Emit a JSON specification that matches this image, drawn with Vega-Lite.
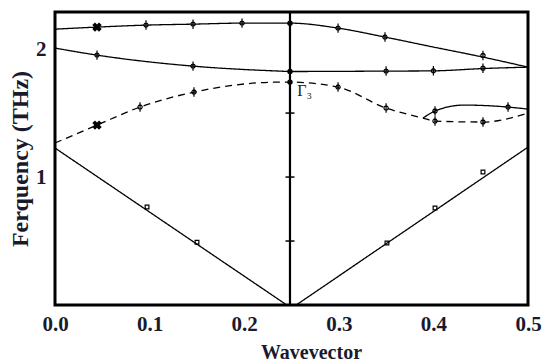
{
  "$schema": "https://vega.github.io/schema/vega-lite/v6.json",
  "width": 473,
  "height": 293,
  "autosize": {"type": "none"},
  "padding": {"left": 55, "top": 12, "right": 23, "bottom": 59},
  "background": "white",
  "config": {
    "view": {"stroke": "black", "strokeWidth": 3},
    "axis": {
      "labelFont": "Liberation Serif",
      "titleFont": "Liberation Serif",
      "labelFontWeight": "bold",
      "titleFontWeight": "bold",
      "labelColor": "#1a1a2e",
      "titleColor": "#1a1a2e",
      "labelFontSize": 21,
      "titleFontSize": 20,
      "grid": false,
      "domain": false,
      "ticks": false,
      "labelFlush": false
    }
  },
  "datasets": {
    "lines": [
      {"curve": "A", "style": "solid", "q": 0, "f": 2.156},
      {"curve": "A", "style": "solid", "q": 0.0444, "f": 2.172},
      {"curve": "A", "style": "solid", "q": 0.0962, "f": 2.1875},
      {"curve": "A", "style": "solid", "q": 0.1459, "f": 2.195},
      {"curve": "A", "style": "solid", "q": 0.1977, "f": 2.203},
      {"curve": "A", "style": "solid", "q": 0.2484, "f": 2.203},
      {"curve": "A", "style": "solid", "q": 0.2992, "f": 2.164},
      {"curve": "A", "style": "solid", "q": 0.3488, "f": 2.094},
      {"curve": "A", "style": "solid", "q": 0.40, "f": 2.016},
      {"curve": "A", "style": "solid", "q": 0.4524, "f": 1.9375},
      {"curve": "A", "style": "solid", "q": 0.5, "f": 1.859},
      {"curve": "B", "style": "solid", "q": 0, "f": 2.008},
      {"curve": "B", "style": "solid", "q": 0.0444, "f": 1.953},
      {"curve": "B", "style": "solid", "q": 0.1459, "f": 1.867},
      {"curve": "B", "style": "solid", "q": 0.2378, "f": 1.828},
      {"curve": "B", "style": "solid", "q": 0.2484, "f": 1.825},
      {"curve": "B", "style": "solid", "q": 0.35, "f": 1.828},
      {"curve": "B", "style": "solid", "q": 0.40, "f": 1.83},
      {"curve": "B", "style": "solid", "q": 0.4524, "f": 1.848},
      {"curve": "B", "style": "solid", "q": 0.5, "f": 1.859},
      {"curve": "C", "style": "dashed", "q": 0, "f": 1.266},
      {"curve": "C", "style": "dashed", "q": 0.0444, "f": 1.406},
      {"curve": "C", "style": "dashed", "q": 0.0899, "f": 1.547},
      {"curve": "C", "style": "dashed", "q": 0.1469, "f": 1.664},
      {"curve": "C", "style": "dashed", "q": 0.2378, "f": 1.742},
      {"curve": "C", "style": "dashed", "q": 0.2484, "f": 1.742},
      {"curve": "C", "style": "dashed", "q": 0.2992, "f": 1.703},
      {"curve": "C", "style": "dashed", "q": 0.35, "f": 1.539},
      {"curve": "C", "style": "dashed", "q": 0.389, "f": 1.461},
      {"curve": "C", "style": "dashed", "q": 0.4017, "f": 1.4375},
      {"curve": "C", "style": "dashed", "q": 0.4524, "f": 1.43},
      {"curve": "C", "style": "dashed", "q": 0.5, "f": 1.5},
      {"curve": "D", "style": "solid", "q": 0.389, "f": 1.461},
      {"curve": "D", "style": "solid", "q": 0.4017, "f": 1.516},
      {"curve": "D", "style": "solid", "q": 0.4323, "f": 1.5625},
      {"curve": "D", "style": "solid", "q": 0.4789, "f": 1.547},
      {"curve": "D", "style": "solid", "q": 0.5, "f": 1.531},
      {"curve": "E", "style": "solid", "q": 0, "f": 1.227},
      {"curve": "E", "style": "solid", "q": 0.245, "f": 0},
      {"curve": "F", "style": "solid", "q": 0.255, "f": 0},
      {"curve": "F", "style": "solid", "q": 0.5, "f": 1.234}
    ],
    "circles": [
      {"q": 0.0962, "f": 2.1875},
      {"q": 0.1459, "f": 2.195},
      {"q": 0.1977, "f": 2.203},
      {"q": 0.2992, "f": 2.164},
      {"q": 0.3488, "f": 2.094},
      {"q": 0.4524, "f": 1.95},
      {"q": 0.0444, "f": 1.953},
      {"q": 0.1459, "f": 1.867},
      {"q": 0.35, "f": 1.828},
      {"q": 0.40, "f": 1.83},
      {"q": 0.4524, "f": 1.85},
      {"q": 0.0899, "f": 1.547},
      {"q": 0.1469, "f": 1.664},
      {"q": 0.2992, "f": 1.703},
      {"q": 0.35, "f": 1.539},
      {"q": 0.4017, "f": 1.4375},
      {"q": 0.4524, "f": 1.43},
      {"q": 0.4017, "f": 1.516},
      {"q": 0.4789, "f": 1.547}
    ],
    "crosses": [
      {"q": 0.0444, "f": 2.172},
      {"q": 0.0444, "f": 1.406}
    ],
    "squares": [
      {"q": 0.0973, "f": 0.766},
      {"q": 0.1501, "f": 0.49},
      {"q": 0.3509, "f": 0.484},
      {"q": 0.4017, "f": 0.758},
      {"q": 0.4524, "f": 1.039}
    ],
    "gamma": [{"q": 0.2484}],
    "gammaDots": [
      {"q": 0.2484, "f": 2.203},
      {"q": 0.2484, "f": 1.825},
      {"q": 0.2484, "f": 1.742}
    ],
    "gammaTicks": [
      {"q": 0.2484, "f": 0.5},
      {"q": 0.2484, "f": 1.0},
      {"q": 0.2484, "f": 1.5}
    ],
    "labels": [
      {"q": 0.264, "f": 1.675, "text": "Γ₃"}
    ]
  },
  "encoding": {
    "x": {
      "field": "q",
      "type": "quantitative",
      "scale": {"domain": [0, 0.5], "nice": false, "zero": false},
      "axis": {
        "title": "Wavevector",
        "values": [0, 0.1, 0.2, 0.3, 0.4, 0.5],
        "format": ".1f",
        "labelPadding": 8,
        "titlePadding": 8,
        "titleX": 256
      }
    },
    "y": {
      "field": "f",
      "type": "quantitative",
      "scale": {"domain": [0, 2.29], "nice": false, "zero": false},
      "axis": {
        "title": "Ferquency (THz)",
        "titleFontSize": 24,
        "values": [1, 2],
        "format": "d",
        "labelPadding": 9,
        "titlePadding": 3
      }
    }
  },
  "layer": [
    {
      "data": {"name": "gamma"},
      "mark": {"type": "rule", "color": "black", "strokeWidth": 2.2},
      "encoding": {"y": null}
    },
    {
      "data": {"name": "lines"},
      "mark": {"type": "line", "color": "black", "strokeWidth": 1.3, "interpolate": "monotone"},
      "encoding": {
        "detail": {"field": "curve"},
        "strokeDash": {
          "field": "style",
          "type": "nominal",
          "scale": {"domain": ["solid", "dashed"], "range": [[1, 0], [7, 5]]},
          "legend": null
        }
      }
    },
    {
      "data": {"name": "circles"},
      "mark": {
        "type": "point",
        "shape": "M0,-1L0,1M-0.45,0A0.45,0.45 0 1,0 0.45,0A0.45,0.45 0 1,0 -0.45,0",
        "size": 90,
        "filled": false,
        "stroke": "black",
        "strokeWidth": 1.2,
        "opacity": 1
      }
    },
    {
      "data": {"name": "crosses"},
      "mark": {"type": "point", "shape": "cross", "angle": 45, "size": 90, "filled": true, "color": "black", "opacity": 1}
    },
    {
      "data": {"name": "squares"},
      "mark": {"type": "point", "shape": "square", "size": 14, "filled": false, "stroke": "black", "strokeWidth": 1.2, "opacity": 1}
    },
    {
      "data": {"name": "gammaDots"},
      "mark": {"type": "point", "shape": "circle", "size": 30, "filled": true, "color": "black", "opacity": 1}
    },
    {
      "data": {"name": "gammaTicks"},
      "mark": {"type": "tick", "orient": "horizontal", "size": 9, "thickness": 1.5, "color": "black", "opacity": 1}
    },
    {
      "data": {"name": "labels"},
      "mark": {"type": "text", "font": "Liberation Serif", "fontSize": 16, "color": "#222222", "align": "center", "baseline": "middle"},
      "encoding": {"text": {"field": "text"}}
    }
  ]
}
